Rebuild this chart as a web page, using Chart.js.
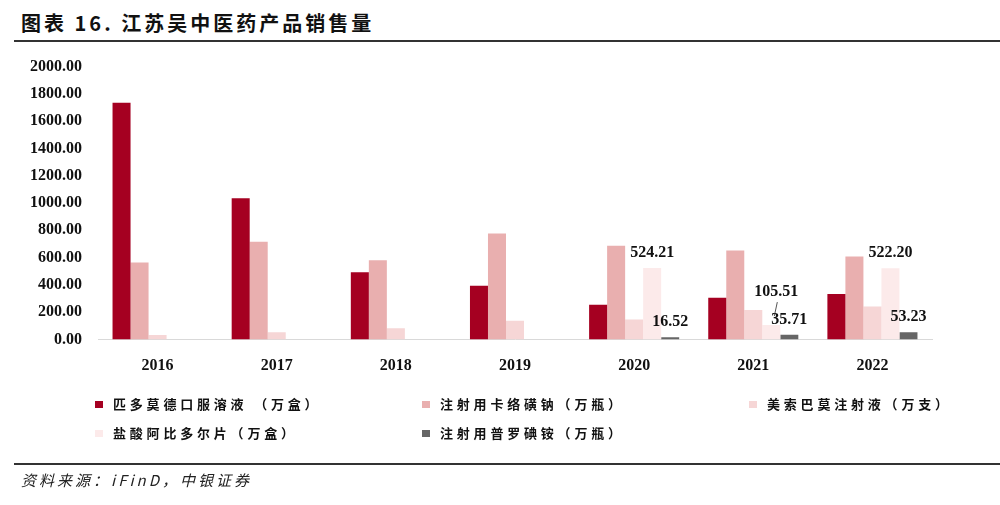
<!DOCTYPE html>
<html>
<head>
<meta charset="utf-8">
<script src="https://cdn.jsdelivr.net/npm/chart.js@4.4.0/dist/chart.umd.min.js"></script>
<style>
  html, body { margin: 0; padding: 0; background: #fff; }
  #wrap { position: relative; width: 1000px; height: 505px; overflow: hidden; }
  #graphCanvas { position: absolute; left: 0; top: 0; }
  .title { position: absolute; left: 21px; top: 8px; font: bold 20px "Noto Sans CJK SC", sans-serif; letter-spacing: 3px; color: #111; }
  .rule { position: absolute; left: 14px; right: 0; height: 2px; background: #333; }
  .source { position: absolute; left: 21px; top: 469px; font: italic 15px "Noto Sans CJK SC", sans-serif; color: #222; letter-spacing: 3px; }
  .legend-item { position: absolute; font: bold 13px "Noto Sans CJK SC", sans-serif; letter-spacing: 3.8px; color: #111; line-height: 16px; }
  .legend-item i { position: absolute; left: -18px; top: 5px; width: 8px; height: 7px; }
</style>
</head>
<body>
<div id="wrap">
  <div class="title">图表 16. 江苏吴中医药产品销售量</div>
  <div class="rule" style="top:40px"></div>
  <canvas id="graphCanvas" width="1000" height="505"></canvas>
  <div id="legend"></div>
  <div class="rule" style="top:463px"></div>
  <div class="source">资料来源：iFinD，中银证券</div>
</div>
<script>
var years = ['2016', '2017', '2018', '2019', '2020', '2021', '2022'];
var yTicks = [0, 200, 400, 600, 800, 1000, 1200, 1400, 1600, 1800, 2000];

var seriesNames = ['匹多莫德口服溶液 （万盒）', '注射用卡络磺钠（万瓶）', '美索巴莫注射液（万支）', '盐酸阿比多尔片（万盒）', '注射用普罗碘铵（万瓶）'];
var pidotimod = [1735, 1034, 493, 393, 254, 305, 334];
var carbazochrome = [564, 717, 580, 776, 686, 652, 608];
var methocarbamol = [33, 53, 83, 137, 146, 217, 242];
var arbidol = [null, null, null, null, 524.21, 105.51, 522.20];
var prolonium = [null, null, null, null, 16.52, 35.71, 53.23];

var colors = ['#A50021', '#E9AFAF', '#F6D6D6', '#FCEAEA', '#666666'];
var allSeries = [pidotimod, carbazochrome, methocarbamol, arbidol, prolonium];

// value labels on the last two series, drawn above each bar
var valueLabels = {
  id: 'valueLabels',
  afterDatasetsDraw: function(chart) {
    var ctx = chart.ctx;
    ctx.save();
    ctx.font = 'bold 16px "Liberation Serif", serif';
    ctx.fillStyle = '#111';
    ctx.textAlign = 'center';
    ctx.textBaseline = 'middle';
    [3, 4].forEach(function(di) {
      var meta = chart.getDatasetMeta(di);
      meta.data.forEach(function(bar, i) {
        var v = chart.data.datasets[di].data[i];
        if (v === null) return;
        var x = bar.x;
        var y = bar.y - 15;
        if (di === 3 && i === 5) {
          // lifted label with leader line
          x = bar.x + 5;
          y = bar.y - 33;
          ctx.strokeStyle = '#555';
          ctx.lineWidth = 1;
          ctx.beginPath();
          ctx.moveTo(x + 1, y + 10);
          ctx.lineTo(x - 2, y + 24);
          ctx.stroke();
        }
        ctx.fillText(v.toFixed(2), x, y);
      });
    });
    ctx.restore();
  }
};

var ctx = document.getElementById('graphCanvas').getContext('2d');

new Chart(ctx, {
  type: 'bar',
  data: {
    labels: years,
    datasets: allSeries.map(function(d, i) {
      return {
        label: seriesNames[i],
        data: d,
        backgroundColor: colors[i],
        borderWidth: 0,
        categoryPercentage: 0.756,
        barPercentage: 1.0
      };
    })
  },
  options: {
    responsive: false,
    animation: false,
    layout: { padding: { top: 66.5, right: 68, left: 0, bottom: 0 } },
    plugins: {
      legend: { display: false },
      tooltip: { enabled: false }
    },
    scales: {
      x: {
        grid: { display: false },
        border: { display: true, color: '#d9d9d9', width: 1 },
        ticks: { color: '#111', padding: 9, font: { family: '"Liberation Serif", serif', size: 16, weight: 'bold' } },
        afterFit: function(scale) { scale.height = 165.5; }
      },
      y: {
        min: 0,
        max: 2000,
        grid: { display: false, drawTicks: false },
        border: { display: false },
        afterBuildTicks: function(scale) { scale.ticks = yTicks.map(function(v) { return { value: v }; }); },
        ticks: {
          color: '#111',
          padding: 16,
          font: { family: '"Liberation Serif", serif', size: 16, weight: 'bold' },
          callback: function(v) { return Number(v).toFixed(2); }
        },
        afterFit: function(scale) { scale.width = 98; }
      }
    }
  },
  plugins: [valueLabels]
});

// html legend in three columns
var legendPos = [[113, 396], [440, 396], [767, 396], [113, 425], [440, 425]];
var legend = document.getElementById('legend');
seriesNames.forEach(function(name, i) {
  var el = document.createElement('div');
  el.className = 'legend-item';
  el.style.left = legendPos[i][0] + 'px';
  el.style.top = legendPos[i][1] + 'px';
  el.innerHTML = '<i style="background:' + colors[i] + '"></i>' + name;
  legend.appendChild(el);
});
</script>
</body>
</html>
